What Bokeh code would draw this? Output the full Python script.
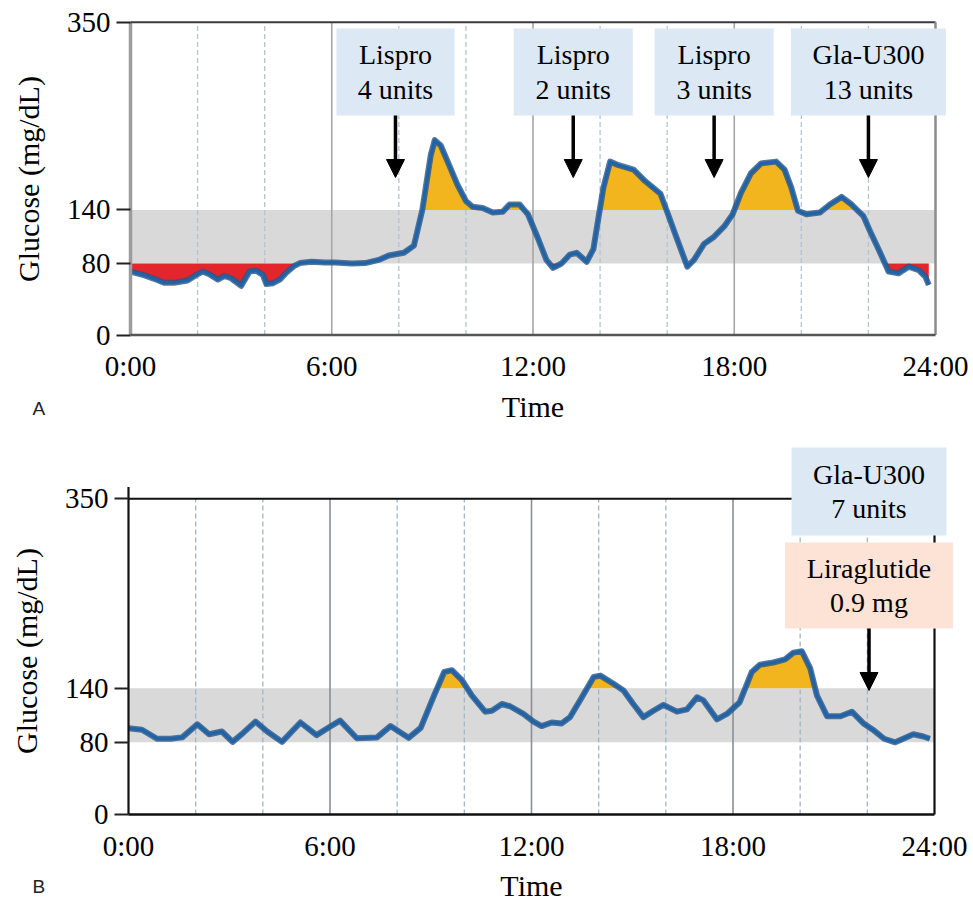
import numpy as np
from bokeh.plotting import figure
from bokeh.models import Range1d, FixedTicker, Arrow, NormalHead
from bokeh.layouts import column
from bokeh.embed import file_html
from bokeh.resources import INLINE
from bokeh.core.properties import value

SERIF = "Liberation Serif"

# ---------------- data ----------------
hours_a = [0.0, 0.4, 0.8, 1.0, 1.3, 1.7, 1.95, 2.15, 2.35, 2.6, 2.8, 3.0, 3.3, 3.55, 3.75,
           3.95, 4.05, 4.25, 4.45, 4.65, 4.87, 5.05, 5.4, 5.8, 6.1, 6.6, 7.0, 7.4, 7.7,
           8.15, 8.45, 8.7, 8.95, 9.07, 9.25, 9.5, 9.75, 10.0, 10.2, 10.5, 10.8, 11.1,
           11.3, 11.6, 11.85, 12.15, 12.4, 12.6, 12.85, 13.1, 13.3, 13.6, 13.8, 13.95,
           14.1, 14.3, 14.55, 15.0, 15.35, 15.8, 15.95, 16.25, 16.6, 16.8, 17.1, 17.4,
           17.7, 17.95, 18.2, 18.5, 18.8, 19.25, 19.5, 19.7, 19.9, 20.15, 20.55, 20.85,
           21.2, 21.5, 21.85, 22.05, 22.35, 22.6, 22.9, 23.2, 23.5, 23.7, 23.8]
glucose_a = [71, 67, 61.5, 58.5, 58.5, 61, 67, 71, 68, 62, 66, 63.5, 55, 71, 72,
             67, 57, 58, 62, 70, 77, 80.5, 82, 81, 81, 80, 80.5, 84, 89,
             92, 100, 140, 201, 218, 212, 190, 168, 150, 143.5, 142, 137, 138,
             146, 146, 135, 108, 84, 75, 80, 90, 92, 82, 96, 131,
             165, 194, 190, 185, 172, 158, 143, 112, 76.5, 84, 102, 110,
             121.5, 135, 159, 181, 192, 194, 185, 165, 139, 135, 137, 146,
             154.5, 146, 133, 116, 92, 71, 69, 76.5, 72.5, 65, 56]

hours_b = [0.0, 0.4, 0.85, 1.25, 1.6, 2.05, 2.4, 2.78, 3.1, 3.43, 3.78, 4.13, 4.57, 5.12,
           5.6, 5.96, 6.3, 6.8, 7.4, 7.8, 8.34, 8.7, 9.1, 9.4, 9.63, 9.93, 10.22, 10.62,
           10.82, 11.12, 11.36, 11.76, 12.06, 12.3, 12.6, 12.9, 13.15, 13.5, 13.85, 14.05,
           14.44, 14.74, 15.03, 15.33, 15.63, 15.93, 16.33, 16.63, 16.93, 17.12, 17.52,
           17.82, 18.2, 18.56, 18.8, 19.2, 19.55, 19.8, 20.05, 20.3, 20.5, 20.8, 21.2,
           21.54, 21.9, 22.2, 22.5, 22.83, 23.07, 23.37, 23.67, 23.86]
glucose_b = [95.5, 94, 84, 84, 85.5, 100, 89, 92, 80.5, 91, 103, 92, 80.5, 102,
             88, 96.5, 104, 84.5, 85.5, 98, 85, 96, 132, 158, 160, 149, 132, 114,
             115, 122.5, 120, 111.5, 103, 98, 102, 101, 108, 130, 152.5, 154,
             145, 137.5, 122.5, 108, 115, 121.5, 114, 116.5, 130, 126.5, 105.5,
             111.5, 124.5, 158, 166, 168.5, 172, 179.5, 181, 162, 132, 109, 109,
             114, 100.5, 93, 84, 80, 84, 89, 86.5, 84]

y_ticks = [0, 80, 140, 350]
x_ticks = [0, 6, 12, 18, 24]
x_tick_labels = ["0:00", "6:00", "12:00", "18:00", "24:00"]
target_low = 80
target_high = 140
solid_grid_hours = [6, 12, 18]
dashed_grid_hours = [2, 4, 8, 10, 14, 16, 20, 22]

dose_times_a = [7.9, 13.2, 17.4, 22.0]
dose_labels_a = ["Lispro\n4 units", "Lispro\n2 units", "Lispro\n3 units", "Gla-U300\n13 units"]
dose_times_b = [22.05, 22.05]
dose_labels_b = ["Gla-U300\n7 units", "Liraglutide\n0.9 mg"]
panel_tags = ["A", "B"]

# ---------------- helpers ----------------
def with_crossings(h, g, level):
    xs, ys = [h[0]], [g[0]]
    for i in range(1, len(h)):
        g0, g1 = g[i - 1], g[i]
        if (g0 - level) * (g1 - level) < 0:
            t = (level - g0) / (g1 - g0)
            xs.append(h[i - 1] + t * (h[i] - h[i - 1]))
            ys.append(level)
        xs.append(h[i])
        ys.append(g[i])
    return np.array(xs, float), np.array(ys, float)


def build_panel(hours, gluc, cfg, boxes, frame, tag):
    p = figure(width=973, height=cfg["height"],
               x_range=Range1d(*cfg["xr"]), y_range=Range1d(*cfg["yr"]),
               output_backend="svg", toolbar_location=None,
               min_border=0, min_border_left=0, min_border_right=0,
               min_border_top=0, min_border_bottom=0,
               background_fill_color="white", border_fill_color="white",
               outline_line_color=None)
    p.xgrid.visible = False
    p.ygrid.visible = False

    x0, x1 = x_ticks[0], x_ticks[-1]
    y0, y1 = y_ticks[0], y_ticks[-1]

    # target band
    p.varea(x=[x0, x1], y1=[target_low, target_low], y2=[target_high, target_high],
            fill_color="#d9d9d9")
    # grid lines
    p.segment(x0=dashed_grid_hours, y0=y0, x1=dashed_grid_hours, y1=y1,
              line_color=frame["dash_color"], line_width=1.3, line_dash="5 3")
    p.segment(x0=solid_grid_hours, y0=y0, x1=solid_grid_hours, y1=y1,
              line_color=frame["solid_color"], line_width=1.6)

    # fills above / below target
    hx, gy = with_crossings(hours, gluc, target_high)
    p.varea(x=hx, y1=np.full_like(gy, target_high), y2=np.maximum(gy, target_high),
            fill_color="#f2b51e")
    lx, ly = with_crossings(hours, gluc, target_low)
    p.varea(x=lx, y1=np.minimum(ly, target_low), y2=np.full_like(ly, target_low),
            fill_color="#e2262b")

    # glucose trace
    p.line(hours, gluc, line_color="#2c5583", line_width=6, line_alpha=0.8,
           line_join="round")
    p.line(hours, gluc, line_color="#1f63a8", line_width=3.2, line_join="round")

    # frame
    p.segment(x0=[x0], y0=[y0], x1=[x0], y1=[frame["left_top"]],
              line_color=frame["left_color"], line_width=frame["left_width"])
    p.segment(x0=[x0], y0=[y1], x1=[x1], y1=[y1],
              line_color=frame["top_color"], line_width=2)
    p.segment(x0=[x1], y0=[y0], x1=[x1], y1=[y1],
              line_color=frame["right_color"], line_width=frame["right_width"])
    p.segment(x0=[x0], y0=[y0], x1=[x1], y1=[y0],
              line_color=frame["bottom_color"], line_width=2.5)

    # dose boxes, texts and arrows
    pxh = cfg["px_per_h"]
    for b in boxes:
        half = b["w"] / 2.0 / pxh
        p.quad(left=[b["t"] - half], right=[b["t"] + half], bottom=[b["bot"]], top=[b["top"]],
               fill_color=b["color"], line_color=None)
        p.text(x=[b["t"]], y=[b["ty"]], text=[b["text"]], text_font=value(SERIF),
               text_font_size=value("28px"), text_align="center", text_baseline="middle",
               text_line_height=1.1, text_color="black")
        if b.get("arrow"):
            a0, a1 = b["arrow"]
            p.add_layout(Arrow(end=NormalHead(size=18, fill_color="black", line_color="black"),
                               x_start=b["t"], y_start=a0, x_end=b["t"], y_end=a1,
                               line_color="black", line_width=3.5))

    # panel tag
    p.text(x=[cfg["tag_xy"][0]], y=[cfg["tag_xy"][1]], text=[tag],
           text_font=value("Liberation Sans"), text_font_size=value("19px"),
           text_align="left", text_baseline="alphabetic", text_color="#222222")

    # axes
    xa = p.xaxis[0]
    xa.fixed_location = y0
    xa.ticker = FixedTicker(ticks=x_ticks)
    xa.major_label_overrides = {t: l for t, l in zip(x_ticks, x_tick_labels)}
    xa.bounds = (x0, x1)
    xa.axis_line_color = None
    xa.major_tick_out = 0
    xa.major_tick_in = 0
    xa.major_tick_line_color = None
    xa.minor_tick_line_color = None
    xa.major_label_text_font = SERIF
    xa.major_label_text_font_size = "29px"
    xa.major_label_text_color = "black"
    xa.major_label_standoff = 15
    xa.axis_label = "Time"
    xa.axis_label_text_font = SERIF
    xa.axis_label_text_font_size = "30px"
    xa.axis_label_text_font_style = "normal"
    xa.axis_label_text_color = "black"
    xa.axis_label_standoff = cfg["xlabstand"]

    ya = p.yaxis[0]
    ya.fixed_location = x0
    ya.ticker = FixedTicker(ticks=y_ticks)
    ya.bounds = cfg["ybounds"]
    ya.axis_line_color = None
    ya.major_tick_out = 14
    ya.major_tick_in = 0
    ya.major_tick_line_width = 2
    ya.major_tick_line_color = "#222222"
    ya.minor_tick_line_color = None
    ya.major_label_text_font = SERIF
    ya.major_label_text_font_size = "29px"
    ya.major_label_text_color = "black"
    ya.major_label_standoff = 6
    ya.axis_label = "Glucose (mg/dL)"
    ya.axis_label_text_font = SERIF
    ya.axis_label_text_font_size = "30px"
    ya.axis_label_text_font_style = "normal"
    ya.axis_label_text_color = "black"
    ya.axis_label_standoff = 19
    return p


# panel A: page px -> x=0 at 130, x=24 at 935 ; y=0 at 334.5, y=350 at 21.7
pxh_a = (935 - 130) / 24.0
pyu_a = (334.5 - 21.7) / 350.0
cfg_a = dict(height=440, px_per_h=pxh_a,
             xr=(-130 / pxh_a, (973 - 130) / pxh_a),
             yr=(-(440 - 334.5) / pyu_a, 334.5 / pyu_a),
             ybounds=(0, 350), xlabstand=4, tag_xy=(-98 / pxh_a, -(408 - 334.5) / pyu_a))
frame_a = dict(left_top=350, left_color="#9c9c9c", left_width=3.5, top_color="#3a3a3a",
               right_color="#8c8c8c", right_width=2.5, bottom_color="#555555",
               dash_color="#b4c4d2", solid_color="#a6a6a6")
boxes_a = [dict(t=t, text=s, w=w, top=342.9, bot=245.6, ty=294.3, color="#dce8f4",
                arrow=(245.6, 176.2))
           for t, s, w in zip(dose_times_a, dose_labels_a, [118, 119, 119, 155])]

# panel B: page px (offset 440) -> x=0 at 128, x=24 at 934 ; y=0 at 814, y=350 at 498.3
pxh_b = (934 - 128) / 24.0
pyu_b = (814 - 498.3) / 350.0
cfg_b = dict(height=462, px_per_h=pxh_b,
             xr=(-128 / pxh_b, (973 - 128) / pxh_b),
             yr=(-(902 - 814) / pyu_b, (814 - 440) / pyu_b),
             ybounds=(0, 363), xlabstand=4, tag_xy=(-96 / pxh_b, -(886 - 814) / pyu_b))
frame_b = dict(left_top=363, left_color="#111111", left_width=2.2, top_color="#111111",
               right_color="#111111", right_width=2.2, bottom_color="#111111",
               dash_color="#9fb6c9", solid_color="#8a8f94")
boxes_b = [dict(t=dose_times_b[0], text=dose_labels_b[0], w=155, top=406.9, bot=309.3,
                ty=358.1, color="#dce8f4"),
           dict(t=dose_times_b[1], text=dose_labels_b[1], w=168, top=301.6, bot=206.2,
                ty=253.9, color="#fce3d6", arrow=(206.2, 137.5))]

pa = build_panel(hours_a, glucose_a, cfg_a, boxes_a, frame_a, panel_tags[0])
pb = build_panel(hours_b, glucose_b, cfg_b, boxes_b, frame_b, panel_tags[1])

layout = column(pa, pb, spacing=0)
open("out.html", "w").write(file_html(layout, INLINE))
